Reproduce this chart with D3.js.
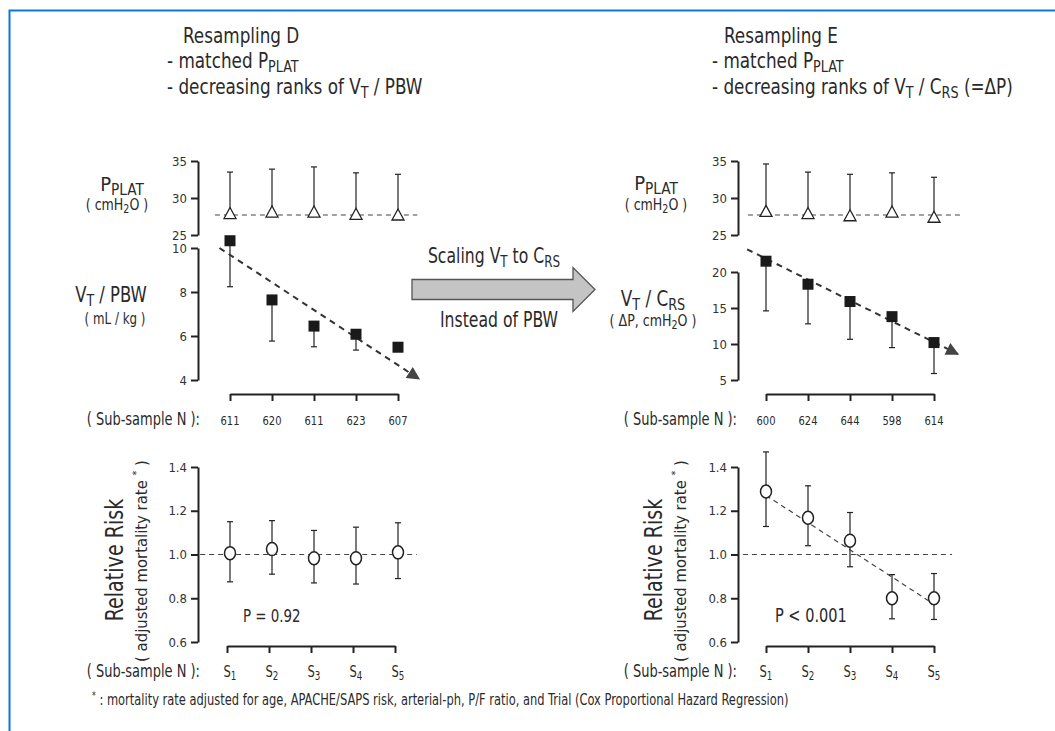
<!DOCTYPE html>
<html lang="en">
<head>
<meta charset="UTF-8">
<title>Resampling D / E</title>
<script src="https://d3js.org/d3.v7.min.js"></script>
<style>
    body { margin: 0; background: #fff; }
    svg text { font-family: "Liberation Sans Narrow", "DejaVu Sans Condensed", "Arial Narrow", sans-serif; fill: #2a2a2a; }
    .axis .domain, .axis line { stroke: #222; stroke-width: 2; }
    .axis text { font-size: 13px; fill: #333; }
    .ref { stroke: #444; stroke-width: 1.2; stroke-dasharray: 5,4; fill: none; }
    .err { stroke: #222; stroke-width: 1.2; }
</style>
</head>
<body>
<svg width="1055" height="731"></svg>
<script>
    // ---- data ----
    const samples   = ["1", "2", "3", "4", "5"];
    const nD        = [611, 620, 611, 623, 607];
    const nE        = [600, 624, 644, 598, 614];

    const pplatRef  = 27.7;
    const pplatD    = [27.9, 28.1, 28.1, 27.8, 27.7];
    const pplatDHi  = [33.5, 33.9, 34.2, 33.4, 33.2];
    const pplatE    = [28.2, 27.9, 27.6, 28.1, 27.4];
    const pplatEHi  = [34.6, 33.5, 33.2, 33.4, 32.8];

    const vtPbw     = [10.33, 7.64, 6.45, 6.08, 5.49];
    const vtPbwLo   = [8.24, 5.77, 5.51, 5.36, 5.49];
    const vtCrs     = [21.5, 18.3, 15.9, 13.8, 10.2];
    const vtCrsLo   = [14.6, 12.8, 10.65, 9.5, 5.9];

    const rrD       = [1.006, 1.025, 0.983, 0.983, 1.01];
    const rrDLo     = [0.875, 0.91, 0.87, 0.865, 0.89];
    const rrDHi     = [1.15, 1.155, 1.11, 1.125, 1.145];
    const rrE       = [1.288, 1.168, 1.063, 0.80, 0.80];
    const rrELo     = [1.128, 1.04, 0.944, 0.706, 0.703];
    const rrEHi     = [1.469, 1.314, 1.192, 0.908, 0.913];

    const trendD    = [[-0.25, 10.0], [4.5, 4.05]];
    const trendE    = [[-0.45, 23.15], [4.57, 8.6]];
    const rrTrendE  = [[0, 1.27], [3.86, 0.79]];

    const svg = d3.select("svg");
    const NARROW = 0.85;   // the original face is narrower than the installed ones

    // frame
    svg.append("path").attr("d", "M9.5,731V10.5H1055")
       .attr("fill", "none").attr("stroke", "#0a78d4").attr("stroke-width", 2);

    svg.append("defs").append("marker")
       .attr("id", "head").attr("viewBox", "0 0 10 10")
       .attr("refX", 9).attr("refY", 5)
       .attr("markerWidth", 8).attr("markerHeight", 6.5)
       .attr("markerUnits", "strokeWidth").attr("orient", "auto")
       .append("path").attr("d", "M0,0L10,5L0,10z").attr("fill", "#444");

    // text with sub/superscripts
    function rich(sel, parts, size) {
        let shift = 0;
        parts.forEach(p => {
            const [str, kind] = typeof p === "string" ? [p, null] : p;
            const target = kind === "sub" ? size * 0.2 : kind === "sup" ? -size * 0.42 : 0;
            sel.append("tspan")
               .attr("dy", target - shift)
               .style("font-size", (kind === "sub" ? size * 0.76 : kind ? size * 0.66 : size) + "px")
               .text(str);
            shift = target;
        });
        return sel;
    }
    function label(x, y, parts, size, anchor, rot, sx) {
        const t = svg.append("text")
            .attr("text-anchor", anchor || "start")
            .attr("transform", `translate(${x},${y})` + (rot ? ` rotate(${rot})` : "")
                               + ` scale(${sx === undefined ? NARROW : sx},1)`);
        return rich(t, parts, size);
    }

    const yPplat = d3.scaleLinear().domain([25, 35]).range([235, 161]);
    const yPbw   = d3.scaleLinear().domain([4, 10]).range([380, 248]);
    const yCrs   = d3.scaleLinear().domain([5, 20]).range([380, 272]);
    const yRR    = d3.scaleLinear().domain([0.6, 1.4]).range([642, 467]);

    function yAxis(scale, x, values, fmt) {
        svg.append("g").attr("class", "axis").attr("transform", `translate(${x},0)`)
           .call(d3.axisLeft(scale).tickValues(values).tickSize(7).tickSizeOuter(0)
                 .tickPadding(4).tickFormat(fmt || d3.format("d")));
    }
    function xAxis(scale, y, dx) {
        svg.append("g").attr("class", "axis").attr("transform", `translate(${dx || 0},${y})`)
           .call(d3.axisBottom(scale).tickValues(d3.range(5)).tickSize(7)
                 .tickSizeOuter(0).tickFormat(""));
    }
    function line(x1, y1, x2, y2, cls) {
        return svg.append("line").attr("x1", x1).attr("y1", y1)
                  .attr("x2", x2).attr("y2", y2).attr("class", cls);
    }
    function errBar(x, yA, yB) {
        line(x, yA, x, yB, "err");
        line(x - 3, yB, x + 3, yB, "err");
    }

    function column(cfg) {
        const x = cfg.x;
        // PPLAT panel
        yAxis(yPplat, cfg.axisX, [25, 30, 35]);
        line(x(cfg.refRange[0]), yPplat(pplatRef), x(cfg.refRange[1]), yPplat(pplatRef), "ref");
        cfg.pplat.forEach((v, i) => {
            errBar(x(i), yPplat(v), yPplat(cfg.pplatHi[i]));
            svg.append("path")
               .attr("d", `M${x(i)},${yPplat(v) - 6}l6,11h-12z`)
               .attr("fill", "#fff").attr("stroke", "#222").attr("stroke-width", 1.3);
        });

        // tidal volume panel
        yAxis(cfg.vtY, cfg.axisX, cfg.vtTicks);
        cfg.vt.forEach((v, i) => errBar(x(i), cfg.vtY(v), cfg.vtY(cfg.vtLo[i])));
        svg.append("line")
           .attr("x1", x(cfg.trend[0][0])).attr("y1", cfg.vtY(cfg.trend[0][1]))
           .attr("x2", x(cfg.trend[1][0])).attr("y2", cfg.vtY(cfg.trend[1][1]))
           .attr("stroke", "#333").attr("stroke-width", 2)
           .attr("stroke-dasharray", "6,5").attr("marker-end", "url(#head)");
        svg.selectAll(null).data(cfg.vt).join("rect")
           .attr("x", (d, i) => x(i) - 5.5).attr("y", d => cfg.vtY(d) - 5.5)
           .attr("width", 11).attr("height", 11).attr("fill", "#1a1a1a");
        xAxis(x, 394);

        label(cfg.nLabelX, 425, ["( Sub-sample N ):"], 17, "end");
        cfg.n.forEach((v, i) => label(x(i), 425, [String(v)], 13, "middle"));

        // relative risk panel
        yAxis(yRR, cfg.axisX, [0.6, 0.8, 1.0, 1.2, 1.4], d3.format(".1f"));
        line(x(cfg.rrRefRange[0]), yRR(1), x(cfg.rrRefRange[1]), yRR(1), "ref");
        if (cfg.rrTrend) {
            line(x(cfg.rrTrend[0][0]), yRR(cfg.rrTrend[0][1]),
                 x(cfg.rrTrend[1][0]), yRR(cfg.rrTrend[1][1]), "ref")
                .attr("stroke-dasharray", "8,7");
        }
        cfg.rr.forEach((v, i) => {
            errBar(x(i), yRR(v), yRR(cfg.rrHi[i]));
            errBar(x(i), yRR(v), yRR(cfg.rrLo[i]));
        });
        svg.selectAll(null).data(cfg.rr).join("ellipse")
           .attr("cx", (d, i) => x(i)).attr("cy", d => yRR(d))
           .attr("rx", 5.5).attr("ry", 6.5)
           .attr("fill", "#fff").attr("stroke", "#222").attr("stroke-width", 1.5);
        xAxis(x, 646, cfg.rrAxisShift);

        label(cfg.nLabelX, 677, ["( Sub-sample N ):"], 17, "end");
        samples.forEach((s, i) => label(x(i), 677, ["S", [s, "sub"]], 15, "middle"));

        label(cfg.rrLabelX, 560, ["Relative Risk"], 25, "middle", -90);
        label(cfg.rrLabelX + 24, 561, ["( adjusted mortality rate ", ["*", "sup"], " )"], 16.5, "middle", -90, 1);
        label(cfg.pX, 622, [cfg.pText], cfg.pSize, "start");
    }

    const xL = d3.scaleLinear().domain([0, 4]).range([230, 398]);
    const xR = d3.scaleLinear().domain([0, 4]).range([766, 934]);

    column({
        x: xL, axisX: 198, refRange: [-0.36, 4.46], rrRefRange: [-0.71, 4.45],
        pplat: pplatD, pplatHi: pplatDHi,
        vtY: yPbw, vtTicks: [4, 6, 8, 10], vt: vtPbw, vtLo: vtPbwLo, trend: trendD,
        n: nD, nLabelX: 200, rrAxisShift: -3,
        rr: rrD, rrLo: rrDLo, rrHi: rrDHi, rrTrend: null,
        rrLabelX: 123, pX: 243, pText: "P = 0.92", pSize: 17.5
    });
    column({
        x: xR, axisX: 738, refRange: [-0.43, 4.69], rrRefRange: [-0.55, 4.43],
        pplat: pplatE, pplatHi: pplatEHi,
        vtY: yCrs, vtTicks: [5, 10, 15, 20], vt: vtCrs, vtLo: vtCrsLo, trend: trendE,
        n: nE, nLabelX: 737, rrAxisShift: 0,
        rr: rrE, rrLo: rrELo, rrHi: rrEHi, rrTrend: rrTrendE,
        rrLabelX: 662, pX: 775, pText: "P < 0.001", pSize: 19
    });

    // panel labels
    label(122, 191, ["P", ["PLAT", "sub"]], 20, "middle", 0, 1);
    label(117, 210, ["( cmH", ["2", "sub"], "O )"], 16.5, "middle");
    label(111, 302, ["V", ["T", "sub"], " / PBW"], 21.5, "middle");
    label(115, 324, ["( mL / kg )"], 15.5, "middle");

    label(656, 190, ["P", ["PLAT", "sub"]], 20, "middle", 0, 1);
    label(656, 210, ["( cmH", ["2", "sub"], "O )"], 16.5, "middle");
    label(653, 306, ["V", ["T", "sub"], " / C", ["RS", "sub"]], 22, "middle");
    label(653, 326, ["( \u0394P, cmH", ["2", "sub"], "O  )"], 16.5, "middle");

    // headings
    label(183, 43, ["Resampling D"], 22);
    label(167, 68, ["- matched P", ["PLAT", "sub"]], 22);
    label(167, 94, ["- decreasing ranks of V", ["T", "sub"], " / PBW"], 22);
    label(724, 43, ["Resampling E"], 22);
    label(712, 68, ["- matched P", ["PLAT", "sub"]], 22);
    label(712, 94, ["- decreasing ranks of V", ["T", "sub"], " / C", ["RS", "sub"], " (=\u0394P)"], 22);

    // big scaling arrow
    svg.append("path")
       .attr("d", "M412,279.5H573V267.5L595,289.5L573,311.5V299.5H412Z")
       .attr("fill", "#c4c4c4").attr("stroke", "#555").attr("stroke-width", 1.3);
    label(494, 263, ["Scaling V", ["T", "sub"], " to C", ["RS", "sub"]], 20.5, "middle");
    label(499, 327, ["Instead of PBW"], 20.5, "middle");

    // footnote
    label(92, 705, [["*", "sup"], " : mortality rate adjusted for age, APACHE/SAPS risk, arterial-ph, P/F ratio, and Trial (Cox Proportional Hazard Regression)"], 15);
</script>
</body>
</html>
